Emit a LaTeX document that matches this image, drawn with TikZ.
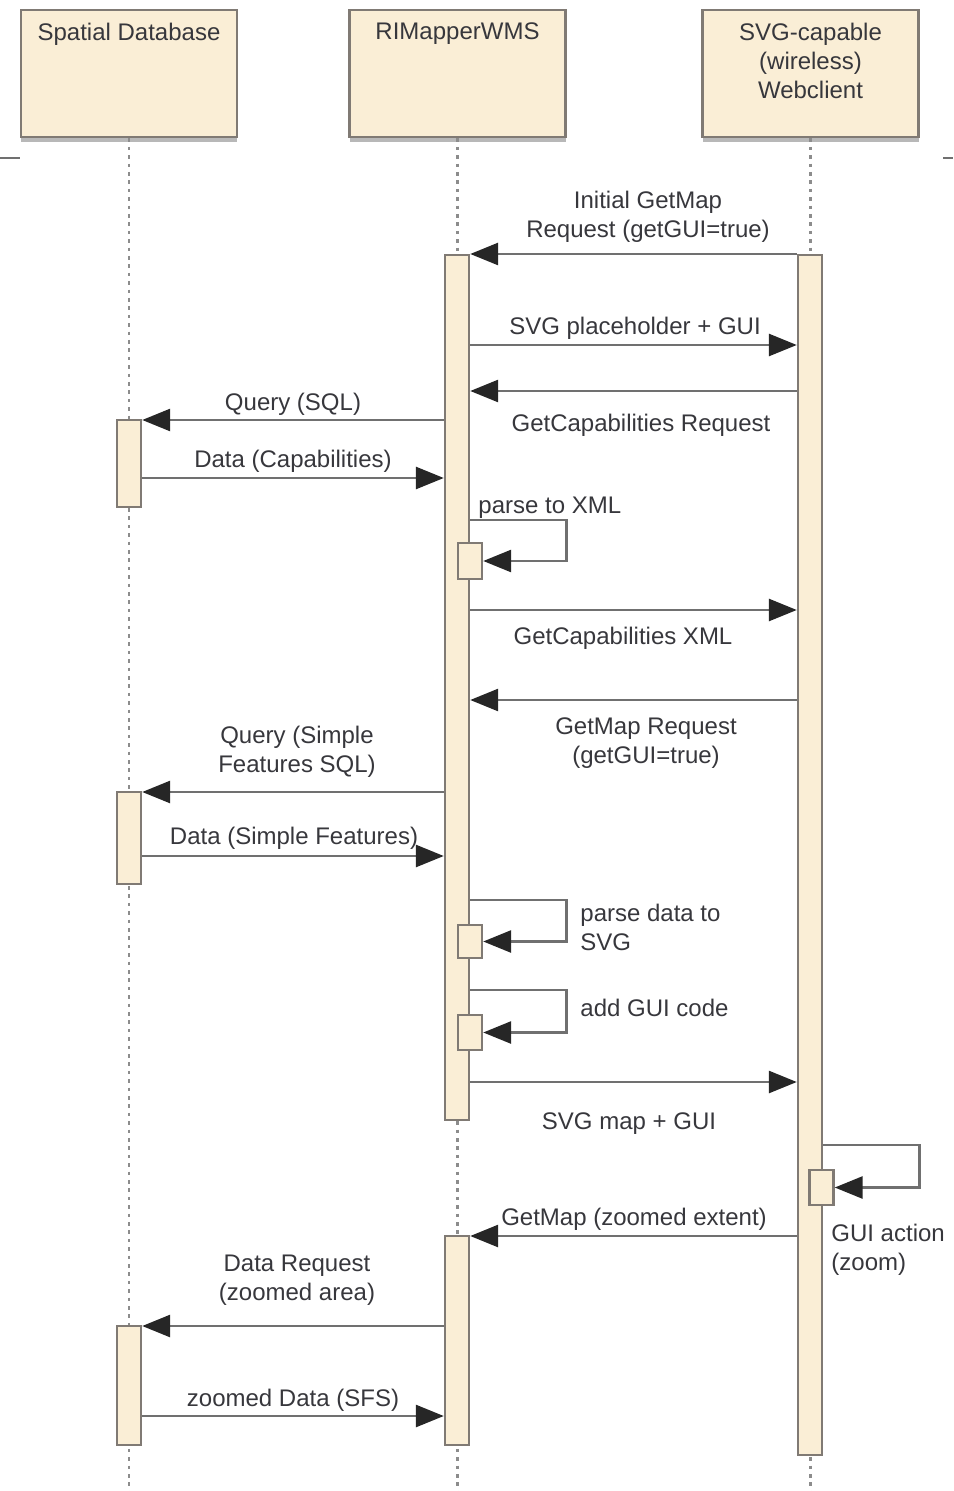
\documentclass[tikz,border=0pt]{standalone}
\usepackage{fontspec}
\setmainfont{Liberation Sans}
\usetikzlibrary{arrows.meta,shadows}
\definecolor{beige}{RGB}{250,238,214}
\definecolor{edge}{RGB}{128,122,116}
\definecolor{ink}{RGB}{55,55,60}
\definecolor{wire}{RGB}{112,112,112}

\begin{document}
\begin{tikzpicture}[x=0.5pt, y=-0.5pt,
		font=\fontsize{12}{14.5}\selectfont,
		hd/.style   = {rectangle, draw=edge, fill=beige, line width=1.4pt, minimum width=108pt, minimum height=63.5pt,
		               drop shadow={shadow xshift=0pt, shadow yshift=-2.5pt, fill=black!28, opacity=1}},
		hdtxt/.style = {anchor=north, align=center, text=ink, inner sep=0pt},
		actv/.style = {rectangle, draw=edge, fill=beige, line width=1.2pt, minimum width=12pt, inner sep=0pt},
		ll/.style   = {draw=black!45, line width=1.2pt, dash pattern=on 1.8pt off 2.4pt},
		msg/.style  = {draw=wire, line width=1.4pt, -{Triangle[length=14pt, width=11pt, fill=black!85, color=black!85]}},
		lbl/.style  = {text=ink, align=center, inner sep=0pt},
		lbll/.style = {text=ink, align=left, inner sep=0pt, anchor=west}
		]
		\useasboundingbox (0,0) rectangle (953,1491);
		
		% frame marks
		\draw[wire, line width=1pt] (0,158) -- (20,158);
		\draw[wire, line width=1pt] (943,158) -- (953,158);
		
		% heads
		\node[hd]	(db)	at	(129, 73.5)		{};
		\node[hd]	(wms)	at	(457.5, 73.5)	{};
		\node[hd]	(cli)	at	(810.5, 73.5)	{};
		\node[hdtxt]	at	([yshift=-7pt]db.north)		{Spatial Database};
		\node[hdtxt]	at	([yshift=-7pt]wms.north)	{RIMapperWMS};
		\node[hdtxt]	at	([yshift=-7pt]cli.north)	{SVG-capable\\(wireless)\\Webclient};
		
		% lifelines
		\coordinate (bot) at (0,1491);
		\draw[ll]	(db.south)	--	(db.south |- bot);
		\draw[ll]	(wms.south)	--	(wms.south |- bot);
		\draw[ll]	(cli.south)	--	(cli.south |- bot);
		
		% activations
		\node[actv, minimum height=432.5pt]	(wms1)	at	(457, 687.5)	{};
		\node[actv, minimum height=600pt]	(cli1)	at	(810, 855)		{};
		\node[actv, minimum height=43.5pt]	(db1)	at	(129, 463.5)	{};
		\node[actv, minimum height=46pt]	(db2)	at	(129, 838)		{};
		\node[actv, minimum height=104.5pt]	(wms2)	at	(457, 1340.5)	{};
		\node[actv, minimum height=59.5pt]	(db3)	at	(129, 1385.5)	{};
		\node[actv, minimum height=18pt]	(xml)	at	(470, 561)		{};
		\node[actv, minimum height=16.5pt]	(svg)	at	(470, 941.5)	{};
		\node[actv, minimum height=17.5pt]	(gui)	at	(470, 1032.5)	{};
		\node[actv, minimum height=17.5pt]	(zoom)	at	(821.5, 1187.5)	{};
		
		% message rows
		\coordinate (m1)	at	(0, 254);
		\coordinate (m2)	at	(0, 345);
		\coordinate (m3)	at	(0, 391);
		\coordinate (m4)	at	(0, 420);
		\coordinate (m5)	at	(0, 478);
		\coordinate (m6)	at	(0, 520);
		\coordinate (m7)	at	(0, 610);
		\coordinate (m8)	at	(0, 700);
		\coordinate (m9)	at	(0, 792);
		\coordinate (m10)	at	(0, 856);
		\coordinate (m11)	at	(0, 900);
		\coordinate (m12)	at	(0, 990);
		\coordinate (m13)	at	(0, 1082);
		\coordinate (m14)	at	(0, 1145);
		\coordinate (m15)	at	(0, 1236);
		\coordinate (m16)	at	(0, 1326);
		\coordinate (m17)	at	(0, 1416);
		
		\draw[msg]	(cli1.west |- m1)	--	(wms1.east |- m1);
		\node[lbl]	at	(648, 217)	{Initial GetMap\\Request (getGUI=true)};
		
		\draw[msg]	(wms1.east |- m2)	--	(cli1.west |- m2);
		\node[lbl]	at	(635, 328)	{SVG placeholder + GUI};
		
		\draw[msg]	(cli1.west |- m3)	--	(wms1.east |- m3);
		\node[lbl]	at	(641, 425)	{GetCapabilities Request};
		
		\draw[msg]	(wms1.west |- m4)	--	(db1.east |- m4);
		\node[lbl]	at	(293, 404)	{Query (SQL)};
		
		\draw[msg]	(db1.east |- m5)	--	(wms1.west |- m5);
		\node[lbl]	at	(293, 461)	{Data (Capabilities)};
		
		\draw[msg]	(wms1.east |- m6)	--	++(96,0)	|-	(xml.east);
		\node[lbll]	at	(478, 508)	{parse to XML};
		
		\draw[msg]	(wms1.east |- m7)	--	(cli1.west |- m7);
		\node[lbl]	at	(623, 638)	{GetCapabilities XML};
		
		\draw[msg]	(cli1.west |- m8)	--	(wms1.east |- m8);
		\node[lbl]	at	(646, 743)	{GetMap Request\\(getGUI=true)};
		
		\draw[msg]	(wms1.west |- m9)	--	(db2.east |- m9);
		\node[lbl]	at	(297, 752)	{Query (Simple\\Features SQL)};
		
		\draw[msg]	(db2.east |- m10)	--	(wms1.west |- m10);
		\node[lbl]	at	(294, 838)	{Data (Simple Features)};
		
		\draw[msg]	(wms1.east |- m11)	--	++(96,0)	|-	(svg.east);
		\node[lbll]	at	(580, 927)	{parse data to\\SVG};
		
		\draw[msg]	(wms1.east |- m12)	--	++(96,0)	|-	(gui.east);
		\node[lbll]	at	(580, 1008)	{add GUI code};
		
		\draw[msg]	(wms1.east |- m13)	--	(cli1.west |- m13);
		\node[lbl]	at	(629, 1124)	{SVG map + GUI};
		
		\draw[msg]	(cli1.east |- m14)	--	++(96,0)	|-	(zoom.east);
		\node[lbll]	at	(831, 1250)	{GUI action\\(zoom)};
		
		\draw[msg]	(cli1.west |- m15)	--	(wms2.east |- m15);
		\node[lbl]	at	(634, 1219)	{GetMap (zoomed extent)};
		
		\draw[msg]	(wms2.west |- m16)	--	(db3.east |- m16);
		\node[lbl]	at	(297, 1280)	{Data Request\\(zoomed area)};
		
		\draw[msg]	(db3.east |- m17)	--	(wms2.west |- m17);
		\node[lbl]	at	(293, 1400)	{zoomed Data (SFS)};
\end{tikzpicture}
\end{document}
